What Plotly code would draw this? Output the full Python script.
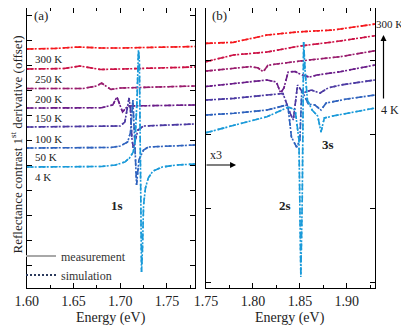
import plotly.graph_objects as go

TEMPS = ["300 K", "250 K", "200 K", "150 K", "100 K", "50 K", "4 K"]
COLORS = ["#f5191e", "#cc1246", "#9a1d6e", "#6b1e8a", "#4d3ba3", "#2f63be", "#1a9ad9"]

# panel (a): 1s region, offset units
E_A_300 = [1.600, 1.630, 1.655, 1.680, 1.700, 1.780]
Y_A_300 = [8.64, 8.66, 8.72, 8.68, 8.68, 8.74]
E_A_250 = [1.600, 1.640, 1.657, 1.679, 1.700, 1.780]
Y_A_250 = [7.84, 7.86, 7.96, 7.82, 7.84, 7.92]
E_A_200 = [1.600, 1.660, 1.675, 1.680, 1.690, 1.700, 1.780]
Y_A_200 = [7.06, 7.06, 7.16, 7.28, 7.02, 7.08, 7.16]
E_A_150 = [1.600, 1.680, 1.692, 1.6965, 1.7025, 1.708, 1.780]
Y_A_150 = [6.28, 6.29, 6.40, 6.72, 6.12, 6.36, 6.40]
E_A_100 = [1.600, 1.690, 1.700, 1.705, 1.708, 1.7095, 1.711, 1.7125, 1.714, 1.716, 1.719, 1.725, 1.780]
Y_A_100 = [5.52, 5.53, 5.56, 5.72, 6.28, 6.68, 6.20, 5.08, 4.68, 5.00, 5.40, 5.56, 5.64]
E_A_50 = [1.600, 1.690, 1.700, 1.708, 1.711, 1.7135, 1.7155, 1.7175, 1.720, 1.725, 1.730, 1.780]
Y_A_50 = [4.68, 4.70, 4.76, 4.92, 5.30, 6.60, 5.00, 3.20, 4.20, 4.60, 4.72, 4.80]
E_A_4 = [1.600, 1.650, 1.680, 1.695, 1.705, 1.710, 1.714, 1.716, 1.718, 1.7195, 1.7205,
         1.7215, 1.722, 1.7228, 1.7238, 1.725, 1.727, 1.730, 1.735, 1.745, 1.760, 1.780]
Y_A_4 = [3.92, 3.92, 3.94, 4.00, 4.12, 4.28, 4.52, 5.00, 6.60, 8.60, 8.20,
         4.60, 1.80, -0.28, 0.60, 2.40, 3.08, 3.48, 3.76, 3.92, 4.00, 4.04]

# panel (b): 2s / 3s region (x3)
E_B_300 = [1.750, 1.779, 1.815, 1.850, 1.885, 1.930]
Y_B_300 = [3.225, 3.239, 3.338, 3.382, 3.405, 3.486]
E_B_250 = [1.750, 1.779, 1.815, 1.850, 1.885, 1.930]
Y_B_250 = [2.977, 3.068, 3.108, 3.189, 3.243, 3.328]
E_B_200 = [1.750, 1.779, 1.797, 1.805, 1.811, 1.816, 1.825, 1.850, 1.893, 1.930]
Y_B_200 = [2.851, 2.888, 2.910, 2.896, 2.842, 2.928, 2.946, 2.986, 3.045, 3.126]
E_B_150 = [1.750, 1.780, 1.815, 1.825, 1.8295, 1.833, 1.8375, 1.845, 1.852, 1.860, 1.868, 1.893, 1.930]
Y_B_150 = [2.642, 2.685, 2.730, 2.703, 2.554, 2.622, 2.838, 2.845, 2.797, 2.770, 2.797, 2.842, 2.932]
E_B_100 = [1.750, 1.780, 1.815, 1.832, 1.8395, 1.843, 1.8475, 1.8535, 1.862, 1.8715, 1.880, 1.893, 1.930]
Y_B_100 = [2.459, 2.482, 2.527, 2.547, 2.284, 2.189, 2.662, 2.554, 2.595, 2.554, 2.622, 2.662, 2.730]
E_B_50 = [1.750, 1.780, 1.815, 1.836, 1.8375, 1.841, 1.8465, 1.850, 1.852, 1.859, 1.866, 1.8725, 1.878, 1.900, 1.930]
Y_B_50 = [2.257, 2.280, 2.324, 2.392, 2.351, 1.959, 1.824, 1.919, 2.595, 2.405, 2.392, 2.324, 2.419, 2.473, 2.527]
E_B_4 = [1.750, 1.780, 1.815, 1.838, 1.845, 1.849, 1.851, 1.8525, 1.854, 1.8555, 1.858,
         1.863, 1.869, 1.8725, 1.876, 1.885, 1.930]
Y_B_4 = [2.018, 2.122, 2.234, 2.365, 2.324, 1.919, 0.068, 1.108, 3.243, 2.865, 2.459,
         2.324, 2.243, 2.027, 2.216, 2.243, 2.351]

PANEL_A = [(E_A_300, Y_A_300), (E_A_250, Y_A_250), (E_A_200, Y_A_200), (E_A_150, Y_A_150),
           (E_A_100, Y_A_100), (E_A_50, Y_A_50), (E_A_4, Y_A_4)]
PANEL_B = [(E_B_300, Y_B_300), (E_B_250, Y_B_250), (E_B_200, Y_B_200), (E_B_150, Y_B_150),
           (E_B_100, Y_B_100), (E_B_50, Y_B_50), (E_B_4, Y_B_4)]

SERIF = "Liberation Serif"
# page body has an 8px margin, so the figure is made 8px smaller and positions shifted
OFF = 8
W, H = 409 - OFF, 329 - OFF

fig = go.Figure()

for panel, (xa, ya) in [(PANEL_A, ("x", "y")), (PANEL_B, ("x2", "y2"))]:
    for (ex, ey), col, t in zip(panel, COLORS, TEMPS):
        # measurement
        fig.add_trace(go.Scatter(x=ex, y=ey, xaxis=xa, yaxis=ya, mode="lines", showlegend=False,
                                 line=dict(color=col, width=1.6, dash="7px,5px")))
        # simulation
        fig.add_trace(go.Scatter(x=ex, y=ey, xaxis=xa, yaxis=ya, mode="lines", showlegend=False,
                                 line=dict(color=col, width=1.6, dash="2px,2px")))

# legend entries
fig.add_trace(go.Scatter(x=[None], y=[None], mode="lines", name="measurement",
                         line=dict(color="#a8a8a8", width=2)))
fig.add_trace(go.Scatter(x=[None], y=[None], mode="lines", name="simulation",
                         line=dict(color="#2b3a5c", width=2, dash="2px,2px")))


def px_x(p):
    return (p - OFF) / W


def px_y(p):
    return 1 - (p - OFF) / H


axis_common = dict(showline=True, linecolor="black", linewidth=1, mirror="ticks",
                   ticks="inside", ticklen=5, tickcolor="black", showgrid=False, zeroline=False)

fig.update_layout(
    width=W, height=H,
    margin=dict(l=0, r=0, t=0, b=0, autoexpand=False),
    paper_bgcolor="white", plot_bgcolor="white",
    font=dict(family=SERIF, size=14, color="#222"),
    xaxis=dict(domain=[px_x(26.7), px_x(195)], range=[1.60, 1.78], tickvals=[1.60, 1.65, 1.70, 1.75],
               tickformat=".2f", minor=dict(dtick=0.025, tick0=1.6, ticks="inside", ticklen=3,
                                            tickcolor="black"), anchor="y", **axis_common),
    yaxis=dict(domain=[px_y(288), 1.0], range=[-0.92, 10.28], dtick=1, tick0=0,
               showticklabels=False, anchor="x", **axis_common),
    xaxis2=dict(domain=[px_x(206), px_x(375)], range=[1.75, 1.93], tickvals=[1.75, 1.80, 1.85, 1.90],
                tickformat=".2f", minor=dict(dtick=0.025, tick0=1.75, ticks="inside", ticklen=3,
                                             tickcolor="black"), anchor="y2", **axis_common),
    yaxis2=dict(domain=[px_y(288), 1.0], range=[-0.081, 3.703], dtick=1, tick0=0,
                showticklabels=False, anchor="x2", **axis_common),
    showlegend=True,
    legend=dict(x=px_x(21), y=px_y(241.5), xanchor="left", yanchor="top", bgcolor="rgba(0,0,0,0)",
                font=dict(family=SERIF, size=12, color="#333"), itemwidth=30, tracegroupgap=0),
)

C = dict(xanchor="center", yanchor="middle", showarrow=False)
ann = []
# temperature labels in panel (a)
label_y = [8.24, 7.44, 6.64, 5.88, 5.04, 4.32, 3.52]
for t, ly in zip(TEMPS, label_y):
    ann.append(dict(x=1.6065, y=ly, xref="x", yref="y", text=t, showarrow=False, xanchor="left",
                    yanchor="middle", font=dict(size=11, color="#222")))
ann += [
    dict(x=1.6055, y=10.0, xref="x", yref="y", text="(a)", showarrow=False, xanchor="left",
         yanchor="middle", font=dict(size=13)),
    dict(x=1.7545, y=3.608, xref="x2", yref="y2", text="(b)", showarrow=False, xanchor="left",
         yanchor="middle", font=dict(size=13)),
    dict(x=1.6969, y=2.4, xref="x", yref="y", text="<b>1s</b>", font=dict(size=13), **C),
    dict(x=1.834, y=1.04, xref="x2", yref="y2", text="<b>2s</b>", font=dict(size=13), **C),
    dict(x=1.8798, y=1.865, xref="x2", yref="y2", text="<b>3s</b>", font=dict(size=13), **C),
    dict(x=1.7525, y=1.716, xref="x2", yref="y2", text="x3", showarrow=False, xanchor="left",
         yanchor="middle", font=dict(size=12)),
    dict(x=1.782, y=1.581, xref="x2", yref="y2", text="", showarrow=True, ax=-31, ay=0,
         arrowhead=2, arrowsize=1, arrowwidth=1.2, arrowcolor="black"),
    dict(x=px_x(375), y=px_y(24), xref="paper", yref="paper", text="300 K", showarrow=False,
         xanchor="left", yanchor="middle", borderpad=0, font=dict(size=11)),
    dict(x=px_x(379), y=px_y(110), xref="paper", yref="paper", text="4 K", showarrow=False,
         xanchor="left", yanchor="middle", font=dict(size=12)),
    dict(x=px_x(383.5), y=px_y(35), xref="paper", yref="paper", text="", showarrow=True, ax=0, ay=65,
         arrowhead=2, arrowsize=1, arrowwidth=1.2, arrowcolor="black"),
    dict(x=px_x(111), y=px_y(318), xref="paper", yref="paper", text="Energy (eV)",
         font=dict(size=14), **C),
    dict(x=px_x(290), y=px_y(318), xref="paper", yref="paper", text="Energy (eV)",
         font=dict(size=14), **C),
    dict(x=px_x(16.5), y=px_y(145), xref="paper", yref="paper", textangle=-90,
         text="Reflectance contrast 1<sup>st</sup> derivative (offset)", font=dict(size=13), **C),
]
fig.update_layout(annotations=ann)

fig.write_html("out.html")
